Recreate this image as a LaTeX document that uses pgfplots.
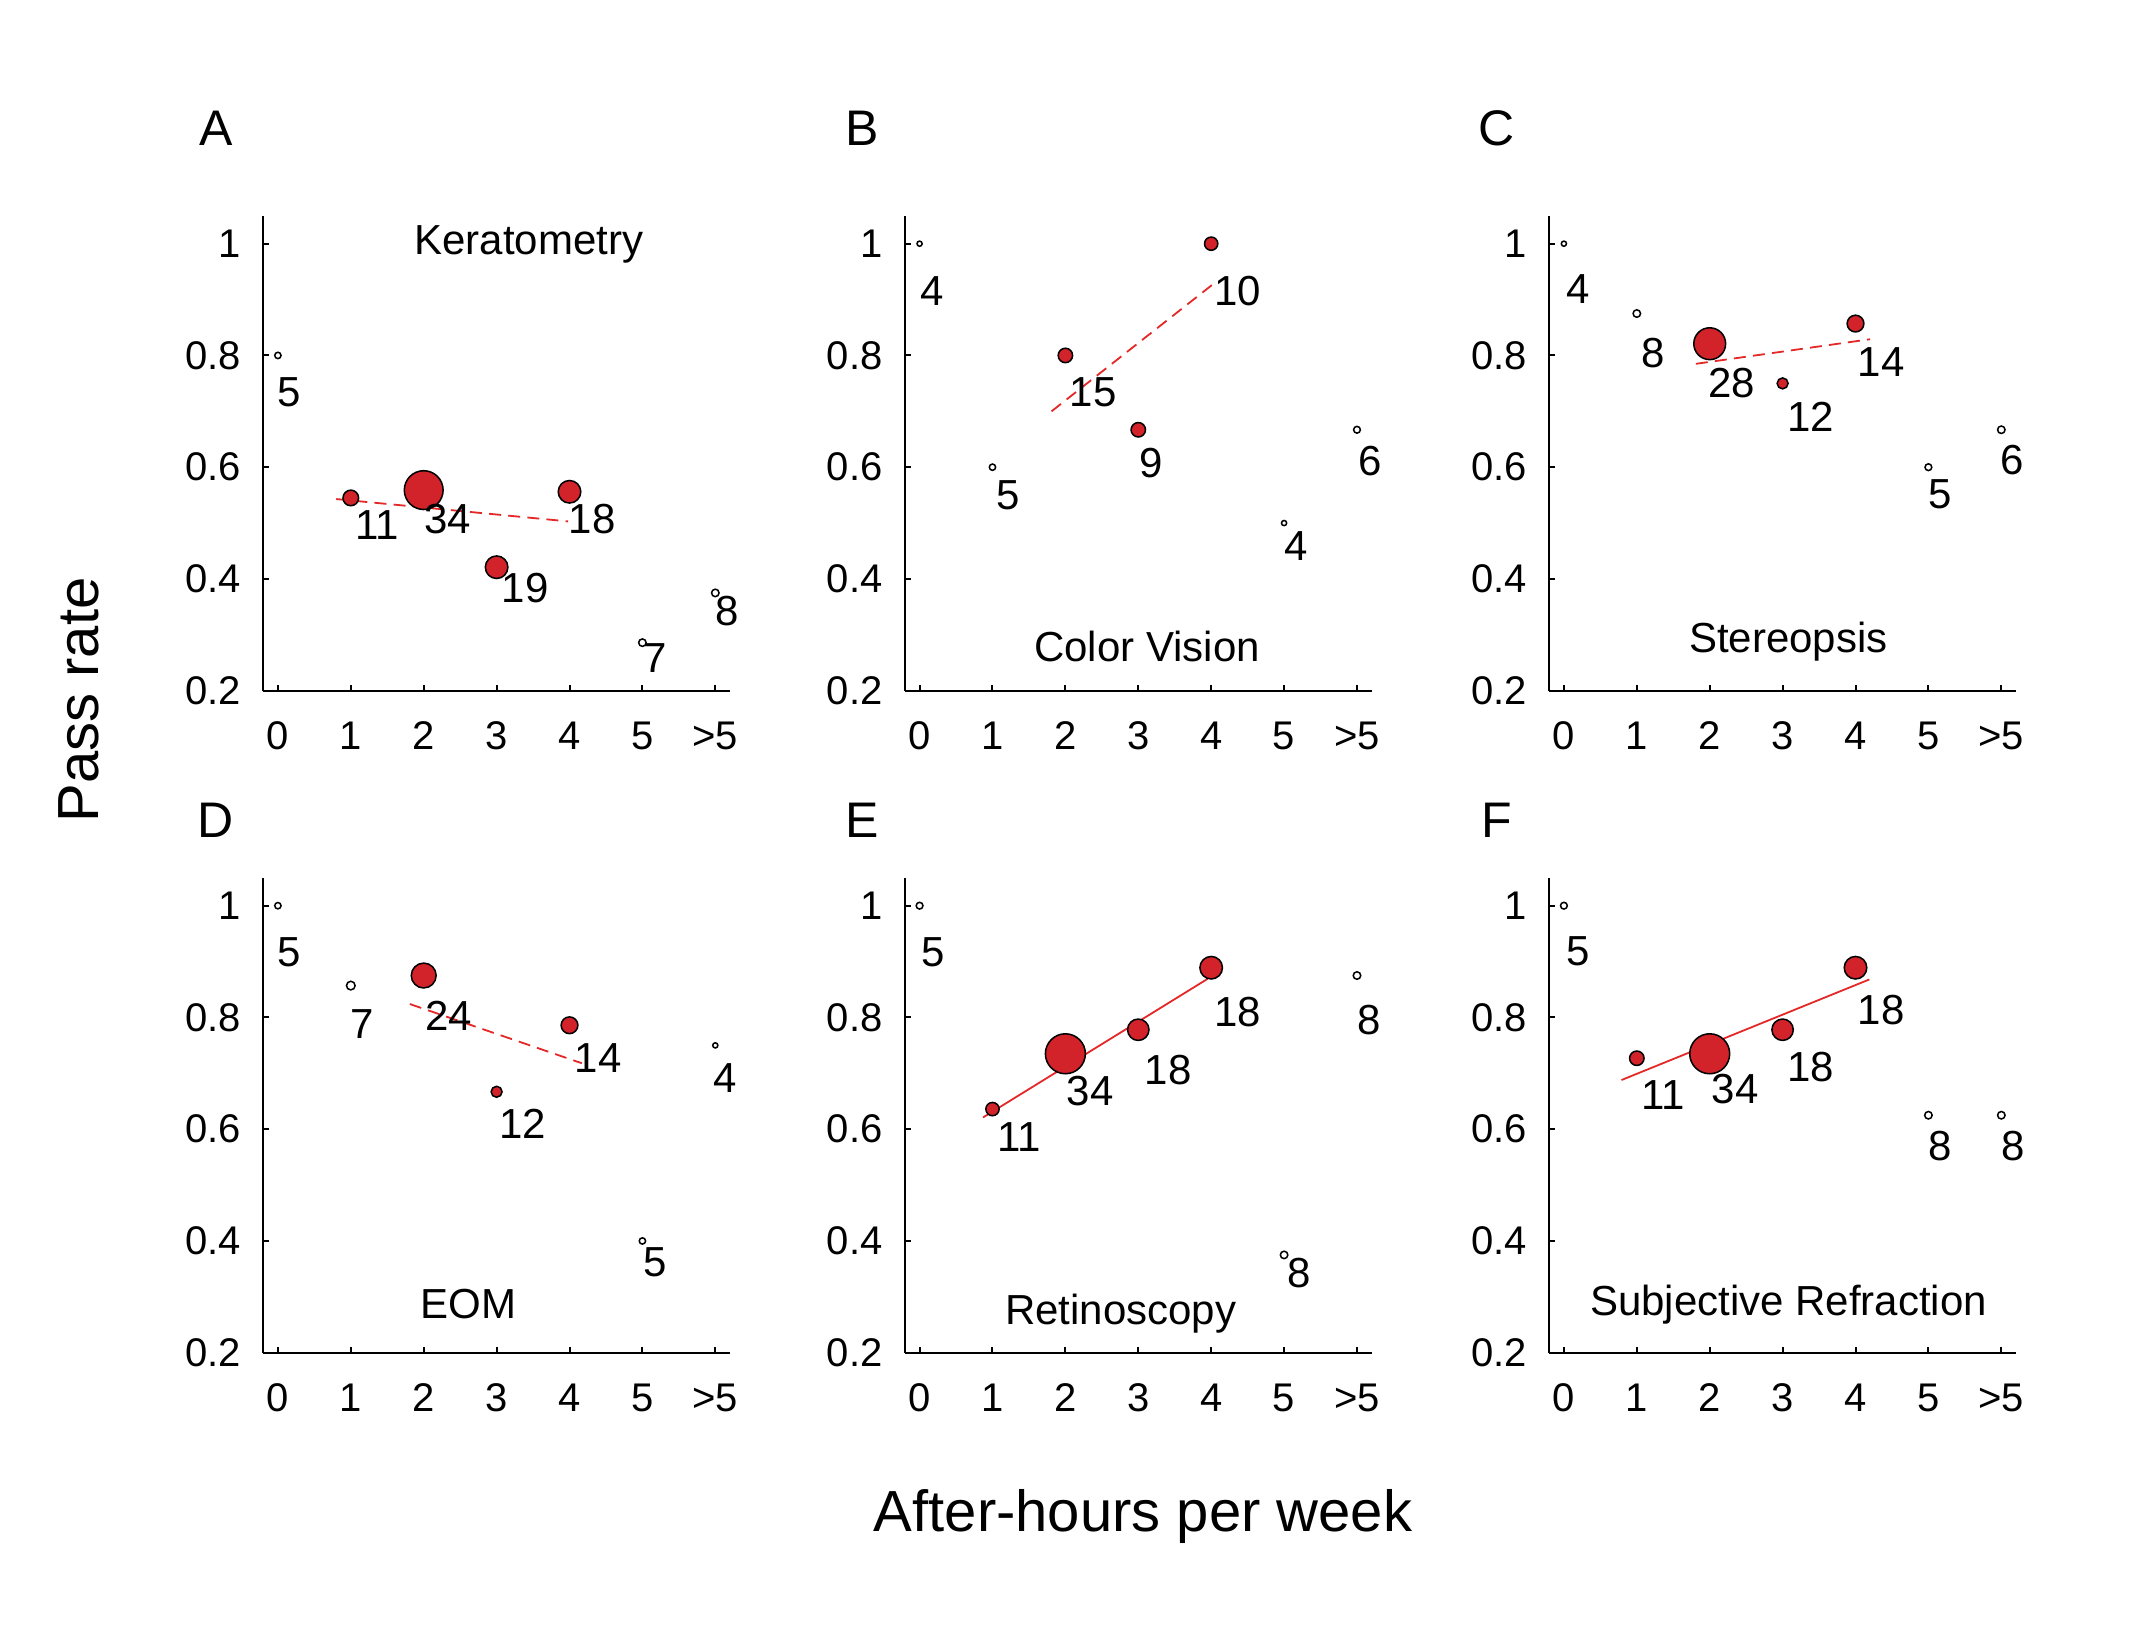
\documentclass[border=0pt]{standalone}
\usepackage{fontspec}
\setmainfont{Liberation Sans}
\usepackage{pgfplots}
\pgfplotsset{compat=1.18}
\definecolor{pred}{RGB}{210,35,42}
\definecolor{lred}{RGB}{228,40,40}

\pgfplotsset{
  panel/.style={
    scale only axis, width=116.65pt, height=118.75pt,
    xmin=-0.2, xmax=6.2, ymin=0.2, ymax=1.05,
    axis x line=bottom, axis y line=left,
    axis line style={-, line width=0.5pt, black},
    every tick/.style={black, line width=0.5pt},
    major tick length=1.5pt, tick align=inside,
    xtick={0,1,2,3,4,5,6}, xticklabels={0,1,2,3,4,5,>5},
    ytick={0.2,0.4,0.6,0.8,1}, yticklabels={0.2,0.4,0.6,0.8,1},
    ticklabel style={font=\fontsize{10}{12}\selectfont},
    xticklabel style={yshift=-4.3pt},
    yticklabel style={xshift=-2.1pt},
    clip=false, anchor=south west,
  },
  fil/.style={scatter, only marks, mark=*,
    scatter/use mapped color={draw=black, fill=pred},
    visualization depends on={\thisrow{r} \as \rr},
    scatter/@pre marker code/.append style={/tikz/mark size={0.29*\rr-0.08}},
    mark options={line width=0.38pt}},
  opn/.style={scatter, only marks, mark=*,
    scatter/use mapped color={draw=black, fill=white},
    visualization depends on={\thisrow{r} \as \rr},
    scatter/@pre marker code/.append style={/tikz/mark size={0.29*\rr-0.08}},
    mark options={line width=0.38pt}},
  lab/.style={only marks, mark=none, forget plot, nodes near coords,
    point meta=explicit symbolic,
    every node near coord/.style={anchor=west, inner sep=0pt,
      font=\fontsize{10.5}{12}\selectfont, text=black}},
  regd/.style={lred, line width=0.45pt, dash pattern=on 3pt off 1.8pt, forget plot},
  regs/.style={lred, line width=0.45pt, solid, forget plot},
}
\tikzset{ttl/.style={anchor=base, font=\fontsize{10.5}{12}\selectfont, inner sep=0pt}}

\begin{document}
\begin{tikzpicture}[x=1pt,y=1pt]
\path[use as bounding box] (0,0) rectangle (538.5,-408.5);

% ---------------- A ----------------
\begin{axis}[panel, at={(65.83pt,-172.68pt)}]
\addplot[regd] coordinates {(0.80,0.543) (3.98,0.503)};
\addplot[fil] table {
x y n r
1 0.545 11 7
2 0.559 34 17
3 0.421 19 10
4 0.556 18 10
};
\addplot[opn] table {
x y n r
0 0.8 5 3
5 0.286 7 3.5
6 0.375 8 3.5
};
\addplot[lab] table[meta=t] {
x y t
-0.01 0.735 5
1.05 0.497 11
2.00 0.508 34
3.06 0.383 19
3.98 0.508 18
5.01 0.258 7
5.99 0.342 8
};
\node[ttl] at (axis cs:3.44,0.9815) {Keratometry};
\end{axis}

% ---------------- B ----------------
\begin{axis}[panel, at={(226.25pt,-172.68pt)}]
\addplot[regd] coordinates {(1.81,0.70) (4.03,0.928)};
\addplot[fil] table {
x y n r
2 0.8 15 6.5
3 0.667 9 6.5
4 1.0 10 6
};
\addplot[opn] table {
x y n r
0 1.0 4 2.5
1 0.6 5 3
5 0.5 4 2.5
6 0.667 6 3.2
};
\addplot[lab] table[meta=t] {
x y t
0.005 0.915 4
1.05 0.55 5
2.05 0.735 15
3.00 0.608 9
4.03 0.915 10
4.99 0.458 4
6.01 0.611 6
};
\node[ttl] at (axis cs:3.12,0.2514) {Color Vision};
\end{axis}

% ---------------- C ----------------
\begin{axis}[panel, at={(387.33pt,-172.68pt)}]
\addplot[regd] coordinates {(1.81,0.785) (4.20,0.829)};
\addplot[fil] table {
x y n r
2 0.821 28 14
3 0.75 12 5
4 0.857 14 7.5
};
\addplot[opn] table {
x y n r
0 1.0 4 2.5
1 0.875 8 3.5
5 0.6 5 3.2
6 0.667 6 3.5
};
\addplot[lab] table[meta=t] {
x y t
0.03 0.918 4
1.05 0.804 8
1.97 0.751 28
3.05 0.69 12
4.02 0.789 14
4.99 0.551 5
5.98 0.613 6
};
\node[ttl] at (axis cs:3.08,0.2685) {Stereopsis};
\end{axis}

% ---------------- D ----------------
\begin{axis}[panel, at={(65.83pt,-338.18pt)}]
\addplot[regd] coordinates {(1.81,0.824) (4.17,0.718)};
\addplot[fil] table {
x y n r
2 0.875 24 11
3 0.667 12 5
4 0.786 14 7.5
};
\addplot[opn] table {
x y n r
0 1.0 5 3
1 0.857 7 4
5 0.4 5 3
6 0.75 4 2.5
};
\addplot[lab] table[meta=t] {
x y t
-0.02 0.916 5
0.99 0.789 7
2.01 0.803 24
3.03 0.61 12
4.06 0.728 14
5.01 0.362 5
5.96 0.691 4
};
\node[ttl] at (axis cs:2.61,0.2604) {EOM};
\end{axis}

% ---------------- E ----------------
\begin{axis}[panel, at={(226.25pt,-338.18pt)}]
\addplot[regs] coordinates {(0.87,0.621) (3.95,0.869)};
\addplot[fil] table {
x y n r
1 0.636 11 6
2 0.735 34 17.5
3 0.778 18 9.5
4 0.889 18 10
};
\addplot[opn] table {
x y n r
0 1.0 5 3.2
5 0.375 8 3.5
6 0.875 8 3.5
};
\addplot[lab] table[meta=t] {
x y t
0.02 0.916 5
1.06 0.586 11
2.01 0.668 34
3.08 0.706 18
4.03 0.809 18
5.03 0.343 8
5.99 0.796 8
};
\node[ttl] at (axis cs:2.76,0.25) {Retinoscopy};
\end{axis}

% ---------------- F ----------------
\begin{axis}[panel, at={(387.33pt,-338.18pt)}]
\addplot[regs] coordinates {(0.79,0.688) (4.19,0.868)};
\addplot[fil] table {
x y n r
1 0.727 11 6.5
2 0.735 34 17.5
3 0.778 18 9.5
4 0.889 18 10
};
\addplot[opn] table {
x y n r
0 1.0 5 3.2
5 0.625 8 3.5
6 0.625 8 3.5
};
\addplot[lab] table[meta=t] {
x y t
0.03 0.919 5
1.05 0.662 11
2.02 0.672 34
3.05 0.711 18
4.02 0.813 18
4.99 0.569 8
5.99 0.569 8
};
\node[ttl] at (axis cs:3.08,0.2672) {Subjective Refraction};
\end{axis}

% panel letters and shared labels
\begin{scope}[every node/.style={font=\fontsize{12.5}{14}\selectfont, inner sep=0pt}]
\node at (53.95,-32) {A};
\node at (215.5,-32) {B};
\node at (374.25,-32) {C};
\node at (53.95,-205) {D};
\node at (215.5,-205) {E};
\node at (374.25,-205) {F};
\end{scope}
\node[rotate=90, font=\fontsize{14.5}{17}\selectfont, inner sep=0pt] at (19.6,-175) {Pass rate};
\node[font=\fontsize{14.5}{17}\selectfont, inner sep=0pt] at (285.75,-379.25) {After-hours per week};
\end{tikzpicture}
\end{document}
